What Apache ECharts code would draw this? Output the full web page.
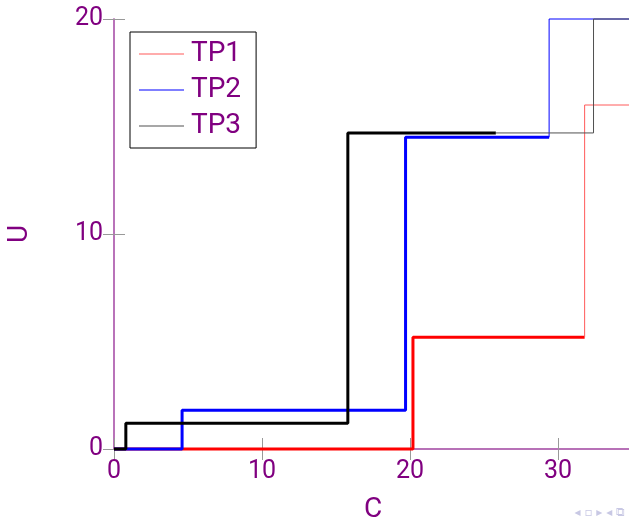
<!DOCTYPE html>
<html>
<head>
<meta charset="utf-8">
<script src="https://cdn.jsdelivr.net/npm/echarts@6/dist/echarts.min.js"></script>
<style>html,body{margin:0;padding:0;background:#fff;}#c{width:629px;height:521px;}</style>
</head>
<body>
<div id="c"></div>
<script>
// Data (step points: [x, y]; step changes at each listed x)
const seriesNames = ['TP1', 'TP2', 'TP3'];
const tp1Bold = [[0, 0], [20.2, 5.2], [31.8, 5.2]];
const tp1Thin = [[31.8, 5.2], [31.8, 16], [35, 16]];
const tp2Bold = [[0, 0], [4.6, 1.8], [19.7, 14.5], [29.4, 14.5]];
const tp2Thin = [[29.4, 14.5], [29.4, 20], [35, 20]];
const tp3Bold = [[0, 0], [0.8, 1.2], [15.8, 14.7], [25.8, 14.7]];
const tp3Thin = [[25.8, 14.7], [32.4, 20], [35, 20]];
const xTicks = [0, 10, 20, 30];
const yTicks = [0, 10, 20];

const purple = '#800080';
const axisPurple = '#b46ab4';
const font = 'Roboto, "DejaVu Sans", sans-serif';

const chart = echarts.init(document.getElementById('c'), null, {renderer: 'canvas'});

function mkAxisBase() {
  return {
    type: 'value', min: 0,
    axisLine: {show: true, lineStyle: {color: axisPurple, width: 1.5}},
    axisTick: {show: true, inside: true, length: 11, lineStyle: {color: '#999', width: 1}},
    splitLine: {show: false}
  };
}

function stepSeries(name, data, color, width, z) {
  return {
    name: name, type: 'line', data: data, step: 'end',
    symbol: 'none', showSymbol: false, clip: false, z: z,
    lineStyle: {color: color, width: width},
    itemStyle: {color: color},
    emphasis: {disabled: true},
    animation: false
  };
}

const option = {
  animation: false,
  grid: {left: 114, top: 19, width: 518, height: 430, containLabel: false, outerBoundsMode: 'none'},
  legend: {
    data: seriesNames,
    orient: 'vertical',
    left: 130, top: 32,
    padding: [8, 15, 8, 9],
    icon: 'rect',
    itemWidth: 45, itemHeight: 1.2, itemGap: 8,
    borderColor: '#000', borderWidth: 1,
    backgroundColor: '#fff',
    textStyle: {color: purple, fontSize: 28, fontFamily: font, lineHeight: 28, padding: [0, 0, 0, 2]}
  },
  xAxis: [
    Object.assign(mkAxisBase(), {
      position: 'bottom', max: 35, interval: 10,
      name: 'C', nameLocation: 'middle', nameGap: 47,
      nameTextStyle: {color: purple, fontSize: 28, fontFamily: font},
      axisLabel: {color: purple, fontSize: 25, fontFamily: font, margin: 10, showMaxLabel: false,
        formatter: v => xTicks.includes(v) ? String(v) : ''}
    }),
    Object.assign(mkAxisBase(), {position: 'top', max: 35, interval: 10, axisLabel: {show: false}})
  ],
  yAxis: [
    Object.assign(mkAxisBase(), {
      position: 'left', max: 20, interval: 10,
      name: 'U', nameLocation: 'middle', nameGap: 80,
      nameTextStyle: {color: purple, fontSize: 28, fontFamily: font},
      axisLabel: {color: purple, fontSize: 25, fontFamily: font, margin: 11,
        formatter: v => yTicks.includes(v) ? String(v) : ''}
    }),
    Object.assign(mkAxisBase(), {position: 'right', max: 20, interval: 10, axisLabel: {show: false}})
  ],
  graphic: [{
    type: 'text', right: 4, bottom: 2, silent: true,
    style: {text: '◂ ▫ ▸ ◂ ⧉', fill: '#c8c8e4', font: '12px "DejaVu Sans"'}
  }],
  series: [
    stepSeries('TP1 bold', tp1Bold, '#ff0000', 3, 2),
    stepSeries('TP2 bold', tp2Bold, '#0000ff', 3, 3),
    stepSeries('TP3 bold', tp3Bold, '#000000', 3, 4),
    stepSeries('TP1', tp1Thin, '#ff5a5a', 1, 2),
    stepSeries('TP2', tp2Thin, '#0000ff', 1, 3),
    stepSeries('TP3', tp3Thin, '#505050', 1, 4)
  ]
};
chart.setOption(option);
</script>
</body>
</html>
